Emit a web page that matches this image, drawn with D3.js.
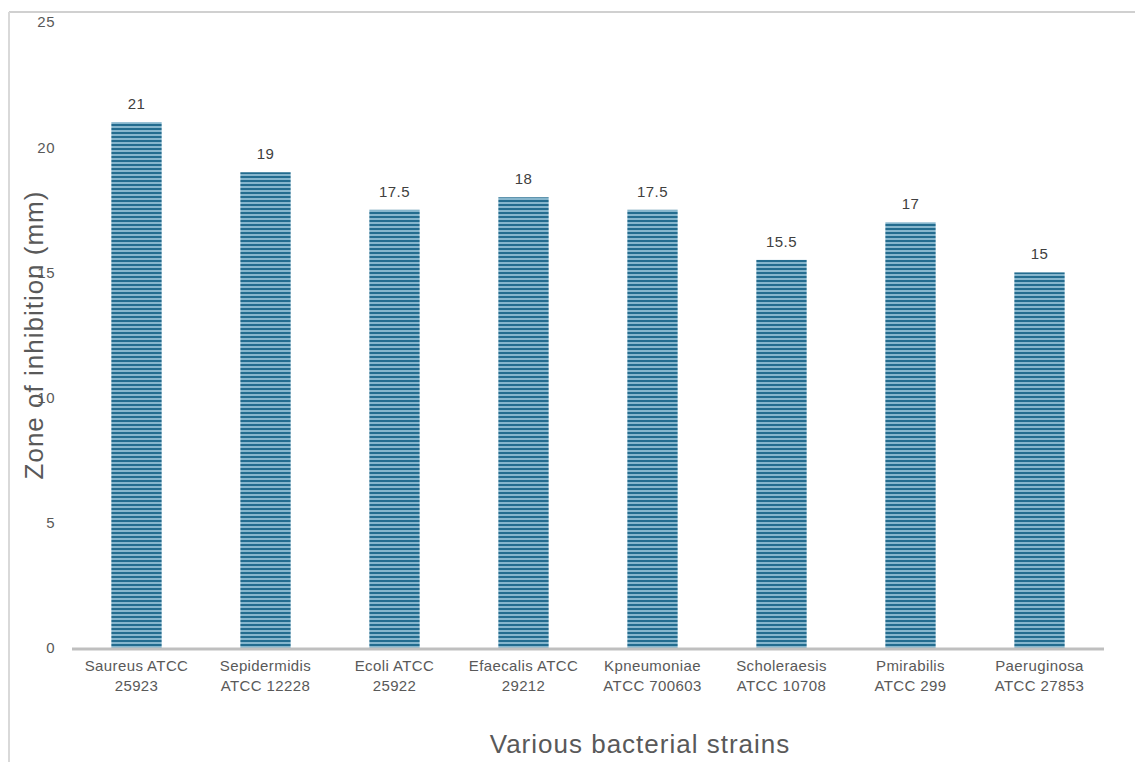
<!DOCTYPE html>
<html>
<head>
<meta charset="utf-8">
<script src="https://cdn.jsdelivr.net/npm/d3@7"></script>
<style>
  body { margin: 0; background: #fff; }
  svg { display: block; font-family: "Liberation Sans", Arial, sans-serif; }
</style>
</head>
<body>
<div id="chart"></div>
<script>
// data
var strains = ["Saureus ATCC 25923", "Sepidermidis ATCC 12228", "Ecoli ATCC 25922", "Efaecalis ATCC 29212",
               "Kpneumoniae ATCC 700603", "Scholeraesis ATCC 10708", "Pmirabilis ATCC 299", "Paeruginosa ATCC 27853"];
var labelLines = [["Saureus ATCC", "25923"], ["Sepidermidis", "ATCC 12228"], ["Ecoli ATCC", "25922"], ["Efaecalis ATCC", "29212"],
                  ["Kpneumoniae", "ATCC 700603"], ["Scholeraesis", "ATCC 10708"], ["Pmirabilis", "ATCC 299"], ["Paeruginosa", "ATCC 27853"]];
var zone = [21, 19, 17.5, 18, 17.5, 15.5, 17, 15];
var yTicks = [0, 5, 10, 15, 20, 25];

var W = 1135, H = 762;
var svg = d3.select("#chart").append("svg")
    .attr("width", W)
    .attr("height", H);

// stripe pattern for bars
var defs = svg.append("defs");
var pat = defs.append("pattern")
    .attr("id", "stripes")
    .attr("patternUnits", "userSpaceOnUse")
    .attr("width", 8)
    .attr("height", 4);
pat.append("rect").attr("width", 8).attr("height", 4).attr("fill", "#86b6cd");
pat.append("rect").attr("width", 8).attr("height", 2).attr("fill", "#236c8f");

// outer frame (top and left only visible)
svg.append("line").attr("x1", 9).attr("x2", W).attr("y1", 12).attr("y2", 12)
    .attr("stroke", "#d0d0d0").attr("stroke-width", 2);
svg.append("line").attr("x1", 9).attr("x2", 9).attr("y1", 12).attr("y2", H)
    .attr("stroke", "#d9d9d9").attr("stroke-width", 2);

var x = d3.scaleBand()
    .domain(strains)
    .range([72, 1104])
    .paddingInner(0.61)
    .paddingOuter(0.305);

var y = d3.scaleLinear()
    .domain([0, 25])
    .range([648, 22]);

// y tick labels (no axis line)
var yAxis = d3.axisLeft(y).tickValues(yTicks).tickSize(0).tickPadding(0);
var gy = svg.append("g")
    .attr("transform", "translate(55,0)")
    .call(yAxis);
gy.select(".domain").remove();
gy.selectAll("text")
    .attr("fill", "#595959")
    .style("font-size", "15px")
    .style("letter-spacing", "0.5px")
    .style("font-family", "Liberation Sans, Arial, sans-serif");

// bars
svg.selectAll(".bar")
    .data(zone)
    .enter()
    .append("rect")
    .attr("class", "bar")
    .attr("x", (d, i) => x(strains[i]))
    .attr("width", x.bandwidth())
    .attr("y", d => y(d))
    .attr("height", d => y(0) - y(d))
    .attr("fill", "url(#stripes)");

// value labels
svg.selectAll(".val")
    .data(zone)
    .enter()
    .append("text")
    .attr("class", "val")
    .attr("x", (d, i) => x(strains[i]) + x.bandwidth() / 2)
    .attr("y", d => y(d) - 13)
    .style("text-anchor", "middle")
    .style("font-size", "15px")
    .style("letter-spacing", "0.5px")
    .attr("fill", "#404040")
    .text(d => d);

// x axis line
svg.append("line")
    .attr("x1", 72).attr("x2", 1104)
    .attr("y1", y(0) + 1).attr("y2", y(0) + 1)
    .attr("stroke", "#bfbfbf")
    .attr("stroke-width", 3);

// x category labels (two lines)
var xl = svg.selectAll(".xl")
    .data(strains)
    .enter()
    .append("text")
    .attr("class", "xl")
    .attr("x", d => x(d) + x.bandwidth() / 2)
    .attr("y", 671)
    .style("text-anchor", "middle")
    .style("font-size", "15px")
    .style("letter-spacing", "0.4px")
    .attr("fill", "#595959");
xl.selectAll("tspan")
    .data((d, i) => labelLines[i])
    .enter()
    .append("tspan")
    .attr("x", function () { return d3.select(this.parentNode).attr("x"); })
    .attr("dy", (d, j) => j === 0 ? 0 : 20)
    .text(d => d);

// axis titles
svg.append("text")
    .attr("x", 640)
    .attr("y", 753)
    .style("text-anchor", "middle")
    .style("font-size", "26px")
    .style("letter-spacing", "1px")
    .attr("fill", "#595959")
    .text("Various bacterial strains");

svg.append("text")
    .attr("transform", "translate(43,335) rotate(-90)")
    .style("text-anchor", "middle")
    .style("font-size", "26px")
    .style("letter-spacing", "1px")
    .attr("fill", "#595959")
    .text("Zone of inhibition (mm)");
</script>
</body>
</html>
